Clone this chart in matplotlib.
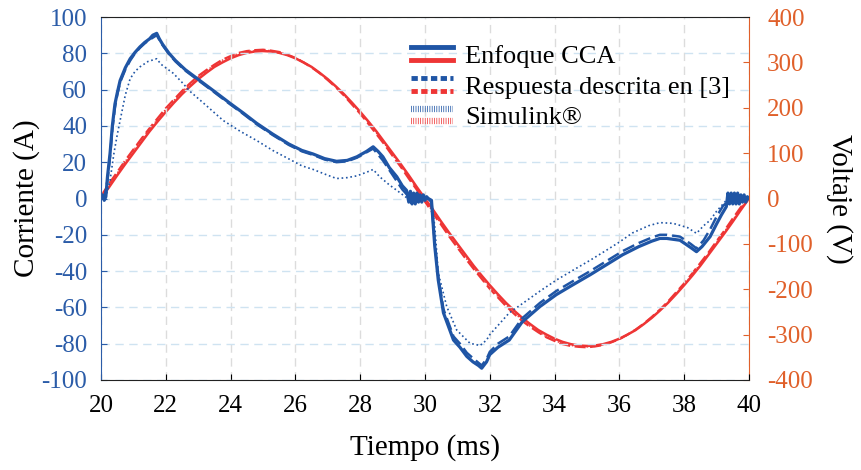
import numpy as np
import matplotlib.pyplot as plt
from matplotlib.lines import Line2D
from matplotlib.legend_handler import HandlerBase

plt.rcParams['font.family'] = ['Liberation Serif', 'DejaVu Serif']

# ---- data (time in ms) ----
t_v = [20.0, 20.25, 20.5, 20.75, 21.0, 21.25, 21.5, 21.75, 22.0, 22.25,
       22.5, 22.75, 23.0, 23.25, 23.5, 23.75, 24.0, 24.25, 24.5, 24.75,
       25.0, 25.25, 25.5, 25.75, 26.0, 26.25, 26.5, 26.75, 27.0, 27.25,
       27.5, 27.75, 28.0, 28.25, 28.5, 28.75, 29.0, 29.25, 29.5, 29.75,
       30.0, 30.25, 30.5, 30.75, 31.0, 31.25, 31.5, 31.75, 32.0, 32.25,
       32.5, 32.75, 33.0, 33.25, 33.5, 33.75, 34.0, 34.25, 34.5, 34.75,
       35.0, 35.25, 35.5, 35.75, 36.0, 36.25, 36.5, 36.75, 37.0, 37.25,
       37.5, 37.75, 38.0, 38.25, 38.5, 38.75, 39.0, 39.25, 39.5, 39.75,
       40.0]
v_cca = [0, 25, 51, 76, 100, 124, 148, 170, 191, 211,
         230, 247, 263, 277, 290, 300, 309, 316, 321, 324,
         325, 324, 321, 316, 309, 300, 290, 277, 263, 247,
         230, 211, 191, 170, 148, 124, 100, 76, 51, 25,
         0, -25, -51, -76, -100, -124, -148, -170, -191, -211,
         -230, -247, -263, -277, -290, -300, -309, -316, -321, -324,
         -325, -324, -321, -316, -309, -300, -290, -277, -263, -247,
         -230, -211, -191, -170, -148, -124, -100, -76, -51, -25,
         0]
v_ref3 = [5, 33, 58, 84, 108, 132, 155, 177, 199, 218,
          237, 254, 270, 283, 295, 306, 314, 321, 325, 327,
          328, 326, 323, 317, 310, 300, 289, 276, 261, 245,
          227, 207, 187, 165, 142, 119, 94, 70, 44, 19,
          -7, -33, -58, -84, -108, -132, -155, -177, -199, -218,
          -237, -254, -270, -283, -295, -306, -314, -321, -325, -327,
          -328, -326, -323, -317, -310, -300, -289, -276, -261, -245,
          -227, -207, -187, -165, -142, -119, -94, -70, -44, -19,
          3]
v_sim = [3, 31, 56, 82, 106, 130, 153, 175, 197, 216,
         235, 252, 268, 282, 294, 305, 313, 320, 324, 326,
         327, 326, 322, 317, 310, 301, 290, 277, 262, 246,
         228, 209, 189, 167, 144, 121, 96, 72, 47, 21,
         -4, -30, -56, -82, -106, -130, -153, -175, -197, -216,
         -235, -252, -268, -282, -294, -305, -313, -320, -324, -326,
         -327, -326, -322, -317, -310, -301, -290, -277, -262, -246,
         -228, -209, -189, -167, -144, -121, -96, -72, -47, -21,
         2]

t_cca = [20.0, 20.05, 20.1, 20.15, 20.2, 20.28, 20.35, 20.43, 20.5, 20.59,
         20.75, 20.9, 21.05, 21.2, 21.35, 21.5, 21.6, 21.72, 21.8, 21.9,
         22.1, 22.3, 22.6, 23.05, 23.5, 23.98, 24.4, 24.8, 25.3, 25.8,
         26.2, 26.55, 26.9, 27.27, 27.6, 27.9, 28.2, 28.4, 28.55, 28.7,
         28.9, 29.13, 29.3, 29.43, 29.5, 29.55, 29.6, 29.65, 29.7, 29.75,
         29.8, 29.85, 29.9, 29.95, 30.0, 30.05, 30.1, 30.2, 30.3, 30.41,
         30.57, 30.88, 31.08, 31.29, 31.48, 31.65, 31.75, 31.9, 32.0, 32.25,
         32.6, 33.0, 33.55, 34.05, 34.57, 35.1, 35.6, 36.1, 36.6, 37.0,
         37.25, 37.46, 37.87, 38.2, 38.38, 38.55, 38.8, 39.0, 39.15, 39.3,
         39.35, 39.4, 39.45, 39.5, 39.55, 39.6, 39.65, 39.7, 39.75, 39.8,
         39.85, 39.9, 39.95, 40.0]
i_cca = [0, 2, -1, 1, 12, 25, 40, 52, 58, 65,
         72, 77, 80.5, 83.5, 86, 88, 90, 91, 88, 85,
         80, 76, 71, 65, 59, 52.5, 47, 41.5, 35.5, 30,
         26.5, 24.5, 22, 20.5, 21, 23, 26, 28.5, 26, 23,
         17, 12, 7, 4.5, -2, 4, -3, 3, -3, 3,
         -2, 2, -2, 2, -1, 1, 0, -1, -26, -45,
         -63, -78, -82, -87, -90, -92, -93.5, -90, -86, -82,
         -78, -68, -59.5, -53, -47.5, -42, -36.5, -31, -26.5, -23.5,
         -22, -22, -23, -27, -29.3, -26.5, -21, -14, -9, -4.5,
         3, -3, 3, -3, 3, -3, 3, -3, 2, -2,
         2, -2, 1, 0]

t_ref3 = [20.0, 20.1, 20.2, 20.28, 20.35, 20.43, 20.5, 20.59, 20.75, 20.9,
          21.05, 21.2, 21.35, 21.5, 21.72, 21.8, 21.9, 22.1, 22.3, 22.6,
          23.05, 23.5, 23.98, 24.4, 24.8, 25.3, 25.8, 26.2, 26.55, 26.9,
          27.27, 27.6, 27.9, 28.2, 28.4, 28.7, 29.0, 29.3, 29.5, 29.8,
          30.1, 30.2, 30.3, 30.41, 30.57, 30.88, 31.08, 31.29, 31.48, 31.75,
          31.9, 32.0, 32.25, 32.6, 33.0, 33.55, 34.05, 34.57, 35.1, 35.6,
          36.1, 36.6, 37.0, 37.25, 37.46, 37.87, 38.2, 38.38, 38.6, 38.8,
          39.0, 39.2, 39.4, 39.6, 39.8, 40.0]
i_ref3 = [0, 0, 10, 23, 38, 50, 57, 64, 71, 76,
          80, 83, 85.5, 87.5, 90, 87.5, 84.5, 79.5, 75.5, 70.5,
          64.5, 58.5, 52, 46.5, 41, 35, 29.5, 26, 24, 21.5,
          20, 20.5, 22.5, 25.5, 27.5, 21, 13, 5, 1, 0,
          0, -2, -24, -43, -61, -76, -80, -85, -88, -92,
          -88.5, -84.5, -80, -76, -66, -57.5, -51, -45.5, -40, -34.5,
          -29, -24.5, -21.5, -20, -20, -21, -25, -27.5, -23, -17,
          -10, -4, -1, 0, 0, 0]

t_sim = [20.0, 20.1, 20.2, 20.28, 20.4, 20.5, 20.59, 20.75, 20.9, 21.05,
         21.2, 21.45, 21.72, 21.85, 22.0, 22.23, 22.5, 22.75, 23.2, 23.77,
         24.3, 24.8, 25.3, 25.83, 26.2, 26.55, 26.9, 27.27, 27.6, 27.9,
         28.2, 28.4, 28.6, 28.9, 29.13, 29.43, 29.7, 30.0, 30.2, 30.3,
         30.41, 30.67, 30.98, 31.39, 31.7, 31.9, 32.0, 32.6, 33.0, 33.55,
         34.05, 34.57, 35.1, 35.6, 36.0, 36.4, 36.9, 37.25, 37.66, 38.1,
         38.38, 38.6, 38.8, 39.0, 39.3, 39.5, 40.0]
i_sim = [0, 0, 4, 10, 25, 35, 43, 57, 66, 70,
         72.5, 75.5, 77, 74, 72, 69, 64, 59, 52, 43,
         37, 32, 26.5, 21.5, 18, 16, 13.5, 11, 11.5, 12.5,
         14.5, 16, 12, 7.5, 4.5, 0.5, 0, 0, -1, -15,
         -41, -59.5, -72.5, -79.8, -81, -78, -75, -63, -58, -51,
         -45, -39.5, -34, -28.5, -24, -19, -15, -13.3, -13.7, -16,
         -19.2, -15, -12, -7, -1, 0, 0]

x_ticks = [20, 22, 24, 26, 28, 30, 32, 34, 36, 38, 40]
i_ticks = [-100, -80, -60, -40, -20, 0, 20, 40, 60, 80, 100]
v_ticks = [-400, -300, -200, -100, 0, 100, 200, 300, 400]

blue = '#1f55a5'
red = '#ee3535'
tick_blue = '#2b5ca8'
tick_orange = '#e0602a'

fig = plt.figure(figsize=(8.61, 4.70), dpi=100)
ax = fig.add_axes([0.1173, 0.1915, 0.7526, 0.7723])
ax2 = ax.twinx()

# voltage on the right axis
r1, = ax2.plot(t_v, v_cca, color=red, lw=1.8, solid_joinstyle='round')
r2, = ax2.plot(t_v, v_ref3, color=red, lw=1.6, ls=(0, (5, 2)))
r3, = ax2.plot(t_v, v_sim, color=red, lw=1.0, ls=':')

# current on the left axis
b3, = ax.plot(t_sim, i_sim, color=blue, lw=1.2, ls=':')
b2, = ax.plot(t_ref3, i_ref3, color=blue, lw=1.8, ls=(0, (5, 2)))
b1, = ax.plot(t_cca, i_cca, color=blue, lw=2.3, solid_joinstyle='round')
ax.set_zorder(ax2.get_zorder() + 1)
ax.patch.set_visible(False)

ax.set_xlim(20, 40)
ax.set_ylim(-100, 100)
ax2.set_ylim(-400, 400)
ax.set_xticks(x_ticks)
ax.set_yticks(i_ticks)
ax2.set_yticks(v_ticks)
ax.set_yticklabels([str(v) for v in i_ticks])
ax2.set_yticklabels([str(v) for v in v_ticks])

ax.grid(axis='y', color='#cfe3f1', ls=(0, (6, 4)), lw=1.0)
ax.grid(axis='x', color='#dcdcdc', ls=(0, (6, 4)), lw=1.0)

ax.tick_params(axis='x', direction='in', length=4, labelsize=18, colors='black', pad=11)
ax.tick_params(axis='y', direction='in', length=4, labelsize=18, colors=tick_blue, pad=10)
ax2.tick_params(axis='y', direction='in', length=4, labelsize=18, colors=tick_orange, pad=13)

ax.spines['left'].set_color(tick_blue)
ax2.spines['right'].set_color(tick_orange)
ax.spines['right'].set_visible(False)
ax2.spines['left'].set_visible(False)
ax2.spines['bottom'].set_visible(False)
ax2.spines['top'].set_visible(False)
ax.spines['top'].set_color('#222222')
ax.spines['bottom'].set_color('#222222')

ax.set_xlabel('Tiempo (ms)', fontsize=21, labelpad=12)
ax.set_ylabel('Corriente (A)', fontsize=21, labelpad=1)
ax2.set_ylabel('Voltaje (V)', fontsize=21, rotation=270, labelpad=29)


class StackedHandler(HandlerBase):
    # blue line on top, red line below, like the original legend
    def create_artists(self, legend, orig_handle, xdescent, ydescent,
                       width, height, fontsize, trans):
        arts = []
        for line, yf in zip(orig_handle, (0.85, 0.15)):
            ls = line.get_linestyle()
            if ls == ':':
                l = Line2D([-xdescent, -xdescent + width], [yf * height - ydescent] * 2,
                           color=line.get_color(), lw=4.5, ls=(0, (0.12, 0.25)))
            else:
                l = Line2D([-xdescent, -xdescent + width], [yf * height - ydescent] * 2,
                           color=line.get_color(), lw=3.5,
                           ls='-' if ls == '-' else (0, (1.3, 0.7)))
            l.set_transform(trans)
            arts.append(l)
        return arts


leg = ax.legend([(b1, r1), (b2, r2), (b3, r3)],
                ['Enfoque CCA', 'Respuesta descrita en [3]', 'Simulink®'],
                handler_map={tuple: StackedHandler()},
                loc='upper left', bbox_to_anchor=(0.45, 0.975),
                frameon=False, fontsize=19, handlelength=1.6,
                handletextpad=0.45, labelspacing=0.27, borderpad=0.2)

fig.savefig('out.png', dpi=100)
